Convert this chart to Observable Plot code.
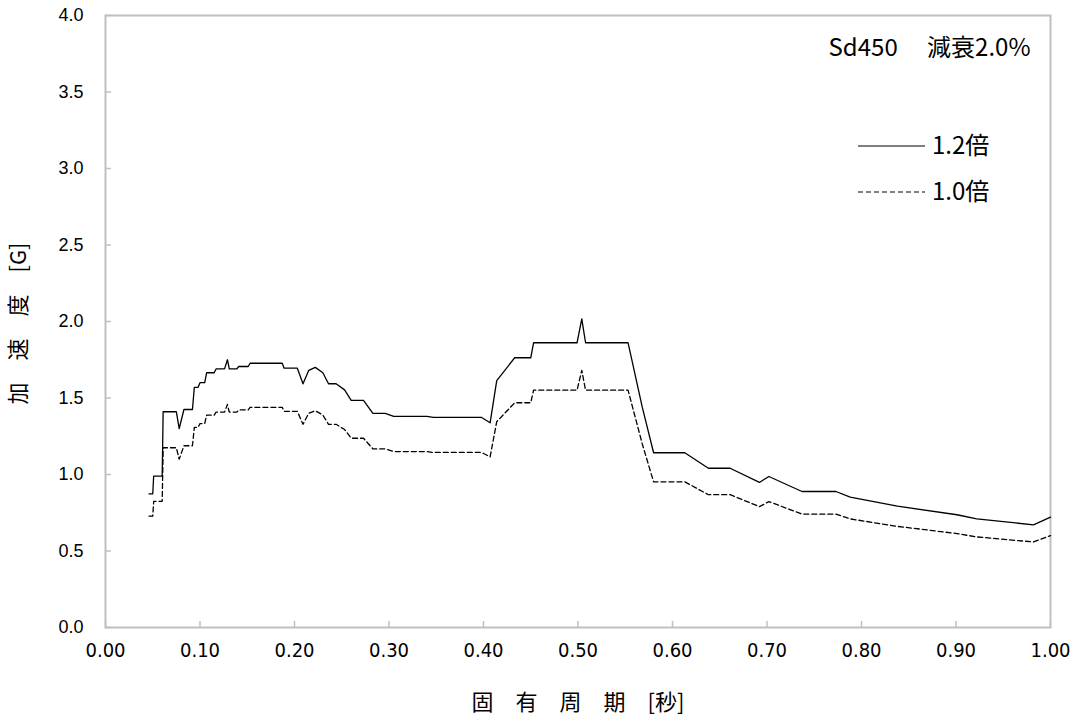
<!DOCTYPE html>
<html><head><meta charset="utf-8">
<script src="https://cdn.jsdelivr.net/npm/d3@7"></script>
<script src="https://cdn.jsdelivr.net/npm/@observablehq/plot@0.6"></script>
<style>body{margin:0;background:#fff} #chart svg{display:block}</style>
</head><body><div id="chart"></div>
<script>
// 固有周期 [秒]
const periods = [0.046,0.050,0.051,0.060,0.061,0.075,0.078,0.083,0.092,0.094,0.098,0.100,0.105,0.107,0.115,0.117,0.126,0.129,0.131,0.139,0.141,0.151,0.153,0.187,0.189,0.203,0.209,0.215,0.222,0.230,0.236,0.244,0.253,0.260,0.273,0.283,0.296,0.305,0.340,0.347,0.398,0.407,0.414,0.433,0.450,0.453,0.499,0.504,0.508,0.553,0.568,0.580,0.613,0.638,0.661,0.692,0.702,0.737,0.773,0.788,0.838,0.901,0.922,0.982,1.000];
// 1.2倍
const accel12 = [0.874,0.874,0.99,0.99,1.41,1.41,1.30,1.425,1.425,1.57,1.57,1.60,1.60,1.665,1.665,1.69,1.69,1.75,1.69,1.69,1.706,1.706,1.727,1.727,1.695,1.695,1.593,1.68,1.70,1.665,1.593,1.593,1.553,1.484,1.484,1.40,1.40,1.38,1.38,1.373,1.373,1.338,1.614,1.763,1.763,1.861,1.861,2.017,1.861,1.861,1.44,1.142,1.142,1.041,1.041,0.948,0.987,0.889,0.889,0.852,0.793,0.737,0.71,0.671,0.721];
// 1.0倍
const accel10 = [0.728,0.728,0.825,0.825,1.175,1.175,1.10,1.188,1.188,1.308,1.308,1.333,1.333,1.388,1.388,1.408,1.408,1.458,1.408,1.408,1.422,1.422,1.439,1.439,1.413,1.413,1.328,1.40,1.417,1.388,1.328,1.328,1.294,1.237,1.237,1.167,1.167,1.15,1.15,1.144,1.144,1.115,1.345,1.469,1.469,1.551,1.551,1.681,1.551,1.551,1.20,0.952,0.952,0.868,0.868,0.79,0.823,0.741,0.741,0.71,0.661,0.614,0.592,0.559,0.601];

const xTicks = [0,0.1,0.2,0.3,0.4,0.5,0.6,0.7,0.8,0.9,1.0];
const yTicks = [0,0.5,1.0,1.5,2.0,2.5,3.0,3.5,4.0];
const seriesNames = ["1.2倍","1.0倍"];
const annotation = "Sd450\u3000 減衰2.0%";
const xLabel = "固\u3000有\u3000周\u3000期\u3000[秒]";
const yLabel = "加\u3000速\u3000度\u3000[G]";

const rows12 = periods.map((p,i)=>({p, v: accel12[i]}));
const rows10 = periods.map((p,i)=>({p, v: accel10[i]}));

const narrow = "'Liberation Sans Narrow','DejaVu Sans Condensed','Liberation Sans',sans-serif";
const cjk = "'Noto Sans CJK JP','Liberation Sans',sans-serif";
const gray = "#c0c0c0";

const chart = Plot.plot({
  width: 1076, height: 724,
  marginLeft: 105, marginRight: 26, marginTop: 15, marginBottom: 97,
  style: {fontFamily: "'Liberation Sans',Arial,sans-serif", fontSize: "18px", background: "#fff", color: "#000"},
  x: {domain: [0, 1]},
  y: {domain: [0, 4]},
  marks: [
    Plot.ruleX(xTicks, {x: d => d, y1: 0, y2: 0, insetTop: -6, stroke: gray, strokeWidth: 1.5}),
    Plot.ruleY(yTicks, {y: d => d, x1: 0, x2: 0, insetRight: -6, stroke: gray, strokeWidth: 1.5}),
    Plot.frame({stroke: gray, strokeWidth: 2}),
    Plot.axisX({ticks: xTicks, tickSize: 0, tickPadding: 15, tickFormat: d => d.toFixed(2), fontSize: 20, fontFamily: narrow, label: null}),
    Plot.axisY({ticks: yTicks, tickSize: 0, tickPadding: 22, tickFormat: d => d.toFixed(1), fontSize: 18, label: null}),
    Plot.line(rows10, {x: "p", y: "v", stroke: "#000", strokeWidth: 1.3, strokeDasharray: "5,3"}),
    Plot.line(rows12, {x: "p", y: "v", stroke: "#000", strokeWidth: 1.3}),
    Plot.text([annotation], {frameAnchor: "top-right", dx: -20, dy: 33, textAnchor: "end", lineAnchor: "middle", fontSize: 24, fontFamily: cjk}),
    Plot.text([xLabel], {frameAnchor: "bottom", dy: 75, textAnchor: "middle", lineAnchor: "middle", fontSize: 22, fontFamily: cjk}),
    Plot.text([yLabel], {frameAnchor: "left", dx: -87, dy: 2, textAnchor: "middle", lineAnchor: "middle", rotate: -90, fontSize: 22, fontFamily: cjk})
  ]
});

// legend
const svg = d3.select(chart);
const lg = svg.append("g").attr("text-anchor", "start");
seriesNames.forEach((name, i) => {
  const y = 146 + i * 46;
  lg.append("line").attr("x1", 858).attr("x2", 925).attr("y1", y).attr("y2", y)
    .attr("stroke", "#000").attr("stroke-width", 1.2)
    .attr("stroke-dasharray", i === 1 ? "5,3" : null);
  lg.append("text").attr("x", 932).attr("y", y).attr("dy", "0.35em")
    .attr("font-size", 24).attr("font-family", cjk).attr("fill", "#000").text(name);
});

document.getElementById("chart").append(chart);
</script>
</body></html>
